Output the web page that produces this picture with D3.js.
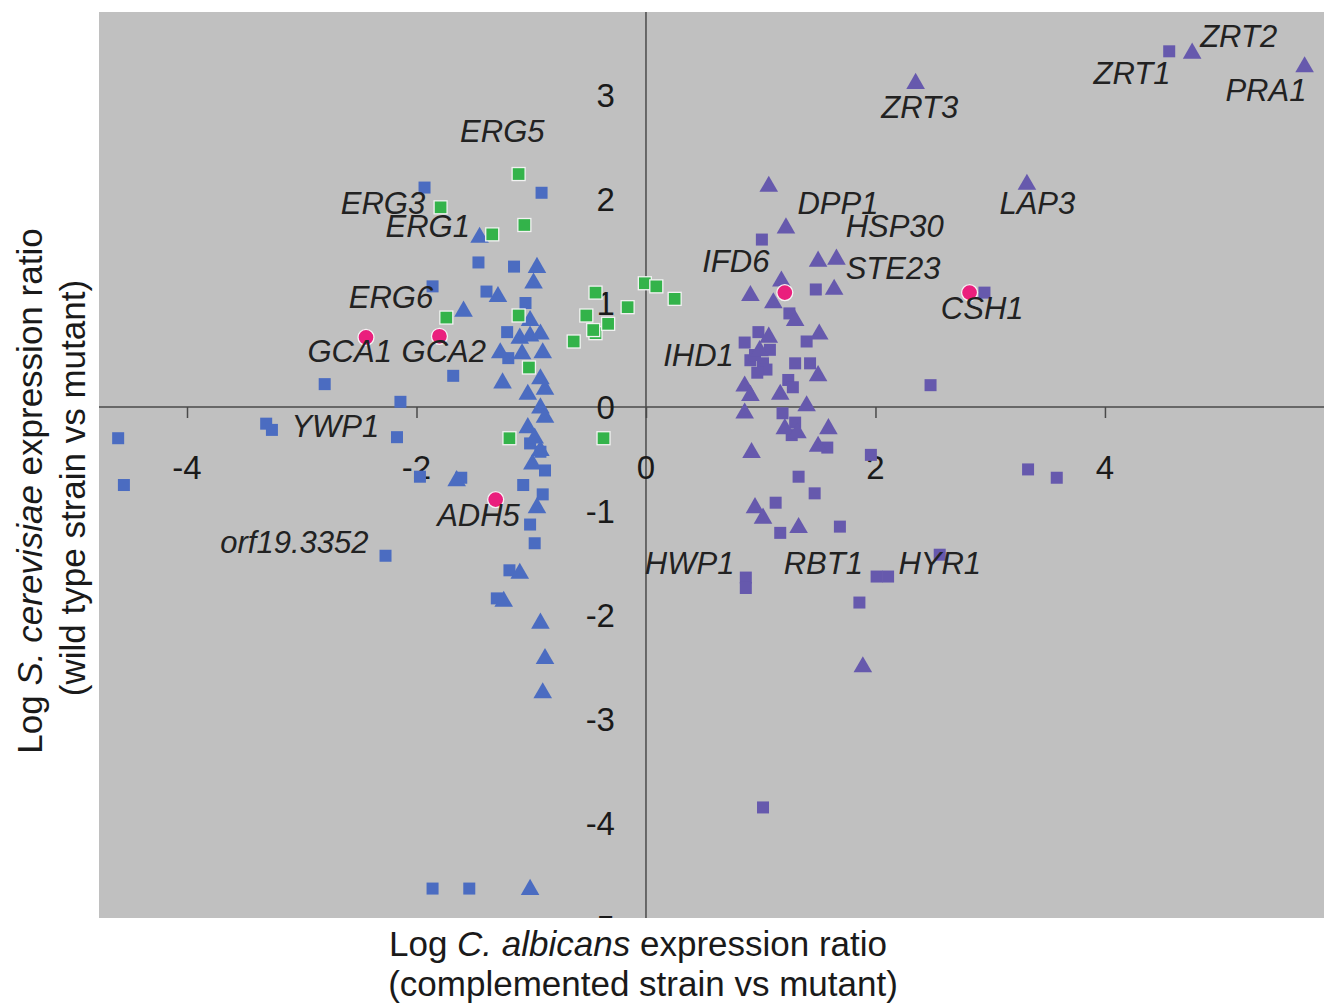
<!DOCTYPE html>
<html><head><meta charset="utf-8">
<script src="https://cdn.jsdelivr.net/npm/d3@7"></script>
<style>
body{margin:0;background:#fff;}
svg{display:block;font-family:"Liberation Sans",Arial,sans-serif;}
</style></head>
<body>
<svg id="chart" width="1324" height="1003"></svg>
<script>
// ---- data (log ratios: x = C. albicans, y = S. cerevisiae) ----
const blueSquares = [
  [-4.60,-0.30],[-4.55,-0.75],[-3.31,-0.16],[-3.26,-0.22],[-2.80,0.22],[-2.27,-1.43],
  [-2.14,0.05],[-2.17,-0.29],[-1.93,2.11],[-1.86,1.16],[-1.97,-0.67],[-1.61,-0.68],
  [-1.68,0.30],[-1.46,1.39],[-1.39,1.11],[-1.15,1.35],[-0.91,2.06],[-1.05,1.00],
  [-1.21,0.72],[-1.20,0.47],[-1.01,-0.35],[-0.92,-0.43],[-1.07,-0.75],[-0.90,-0.84],
  [-1.01,-1.13],[-0.97,-1.31],[-1.19,-1.57],[-1.30,-1.84],[-1.86,-4.63],[-1.54,-4.63],
  [-0.88,-0.61]
];
const blueTriangles = [
  [-1.45,1.64],[-1.59,0.93],[-1.29,1.07],[-0.95,1.35],[-0.98,1.20],[-1.10,0.67],
  [-1.01,0.69],[-0.92,0.71],[-1.27,0.53],[-1.08,0.52],[-0.90,0.53],[-1.25,0.24],
  [-1.03,0.13],[-0.92,0.28],[-0.88,0.18],[-0.92,0.00],[-0.88,-0.09],[-1.03,-0.19],
  [-0.97,-0.29],[-0.92,-0.41],[-0.99,-0.54],[-0.95,-0.96],[-1.10,-1.59],[-1.24,-1.86],
  [-0.92,-2.07],[-0.88,-2.41],[-0.90,-2.74],[-1.01,-4.63],[-1.65,-0.70],[-1.01,0.84]
];
const purpleSquares = [
  [1.01,1.61],[1.48,1.13],[1.25,0.90],[0.98,0.72],[0.86,0.62],[1.40,0.63],[1.30,0.42],
  [1.43,0.42],[0.91,0.45],[1.02,0.42],[1.05,0.36],[0.97,0.33],[1.24,0.26],[1.28,0.19],
  [1.19,-0.06],[1.30,-0.15],[1.27,-0.27],[1.58,-0.39],[1.96,-0.46],[1.33,-0.67],
  [1.47,-0.83],[1.13,-0.92],[1.17,-1.21],[1.69,-1.15],[0.87,-1.64],[0.87,-1.74],
  [2.01,-1.63],[2.11,-1.63],[1.86,-1.88],[2.56,-1.42],[1.02,-3.85],[2.48,0.21],
  [2.95,1.10],[3.33,-0.60],[3.58,-0.68],[4.56,3.42],[1.08,0.55],[0.95,0.50]
];
const purpleTriangles = [
  [1.07,2.13],[1.22,1.73],[1.50,1.41],[1.66,1.43],[1.64,1.14],[1.18,1.22],[0.91,1.08],
  [1.11,1.01],[1.51,0.71],[1.07,0.68],[1.50,0.31],[0.86,0.21],[0.91,0.12],[1.17,0.13],
  [1.40,0.02],[0.86,-0.05],[1.59,-0.20],[1.21,-0.20],[1.32,-0.24],[1.50,-0.37],
  [0.92,-0.43],[0.95,-0.96],[1.02,-1.06],[1.33,-1.15],[1.89,-2.49],[2.35,3.12],
  [3.32,2.15],[4.76,3.41],[5.74,3.28],[1.30,0.84],[0.99,0.55]
];
const greenSquares = [
  [-1.11,2.24],[-1.79,1.92],[-1.34,1.66],[-1.06,1.75],[-1.74,0.86],[-1.11,0.88],
  [-1.02,0.38],[-0.63,0.63],[-0.52,0.88],[-0.44,1.10],[-0.44,0.71],[-0.33,0.80],
  [-0.16,0.96],[-0.01,1.19],[0.09,1.16],[0.25,1.04],[-1.19,-0.30],[-0.37,-0.30],
  [-0.46,0.74]
];
const pinkCircles = [[-2.44,0.67],[-1.80,0.68],[-1.31,-0.89],[1.21,1.10],[2.82,1.10]];

const geneNames = ["ZRT2","ZRT1","PRA1","ZRT3","ERG5","ERG3","ERG1","DPP1","HSP30","LAP3",
  "IFD6","STE23","ERG6","CSH1","GCA1","GCA2","IHD1","YWP1","ADH5","orf19.3352","HWP1","RBT1","HYR1"];
const geneLabelX = [4.83,3.90,5.05,2.05,-1.62,-2.66,-2.27,1.32,1.74,3.08,
  0.49,1.74,-2.59,2.57,-2.95,-2.13,0.15,-3.09,-1.82,-3.71,-0.01,1.20,2.20];
const geneLabelY = [3.46,3.11,2.94,2.78,2.55,1.86,1.63,1.86,1.63,1.86,
  1.30,1.23,0.95,0.85,0.43,0.43,0.39,-0.29,-1.14,-1.40,-1.61,-1.61,-1.61];

const xTicks = [-4,-2,0,2,4];
const yTicks = [3,2,1,0,-1,-2,-3,-4,-5];
const yTickLabels = ["3","2","1","0","-1","-2","-3","-4","-5"];

// ---- layout ----
const svg = d3.select("#chart");
const plot = {left:99, right:1324, top:12, bottom:918};
const x = d3.scaleLinear().domain([-4.767, 5.909]).range([plot.left, plot.right]);
const y = d3.scaleLinear().domain([-4.913, 3.798]).range([plot.bottom, plot.top]);

svg.append("defs").append("clipPath").attr("id","plotclip").append("rect")
  .attr("x",0).attr("y",0).attr("width",1324).attr("height",plot.bottom);

svg.append("rect").attr("x",plot.left).attr("y",plot.top)
  .attr("width",plot.right-plot.left).attr("height",plot.bottom-plot.top)
  .attr("fill","#c0c0c0");

const axisColor = "#4a4a4a";
svg.append("line").attr("x1",plot.left).attr("x2",plot.right)
  .attr("y1",y(0)).attr("y2",y(0)).attr("stroke",axisColor).attr("stroke-width",1.5);
svg.append("line").attr("x1",x(0)).attr("x2",x(0))
  .attr("y1",plot.top).attr("y2",plot.bottom).attr("stroke",axisColor).attr("stroke-width",1.5);

const xAxis = d3.axisBottom(x).tickValues(xTicks).tickSize(11).tickFormat("");
const gx = svg.append("g").attr("transform",`translate(0,${y(0)})`).call(xAxis);
gx.select(".domain").remove();
gx.selectAll(".tick line").attr("stroke",axisColor).attr("stroke-width",1.5);

const yAxis = d3.axisLeft(y).tickValues(yTicks).tickSize(12).tickFormat("");
const gy = svg.append("g").attr("transform",`translate(${x(0)},0)`).attr("clip-path","url(#plotclip)").call(yAxis);
gy.select(".domain").remove();
gy.selectAll(".tick line").attr("stroke",axisColor).attr("stroke-width",1.5);

svg.append("g").selectAll("text").data(xTicks).join("text")
  .attr("x",d=>x(d)).attr("y",y(0)+72).attr("text-anchor","middle")
  .attr("font-size",33).attr("fill","#1a1a1a").text(d=>d);
// y tick labels, clipped at the plot bottom (the "-5" is only partly visible)
svg.append("g").attr("clip-path","url(#plotclip)").selectAll("text")
  .data(yTicks).join("text")
  .attr("x",x(0)-31).attr("y",d=>y(d)).attr("dy","0.36em").attr("text-anchor","end")
  .attr("font-size",33).attr("fill","#1a1a1a").text((d,i)=>yTickLabels[i]);

// ---- markers ----
const blue = "#4b6cc1", purple = "#6659ad", green = "#33b34a", pink = "#ea1f7d";
function squares(data, color, size, stroke){
  svg.append("g").selectAll("rect").data(data).join("rect")
    .attr("x",d=>x(d[0])-size/2).attr("y",d=>y(d[1])-size/2)
    .attr("width",size).attr("height",size).attr("fill",color)
    .attr("stroke",stroke||"none").attr("stroke-width",stroke?1.3:0);
}
function triangles(data, color){
  const tri = d3.symbol().type(d3.symbolTriangle).size(150);
  svg.append("g").selectAll("path").data(data).join("path")
    .attr("d",tri).attr("transform",d=>`translate(${x(d[0])},${y(d[1])+1})`)
    .attr("fill",color);
}
squares(blueSquares, blue, 12);
triangles(blueTriangles, blue);
squares(purpleSquares, purple, 12);
triangles(purpleTriangles, purple);
squares(greenSquares, green, 13, "#f2f2f2");
svg.append("g").selectAll("circle").data(pinkCircles).join("circle")
  .attr("cx",d=>x(d[0])).attr("cy",d=>y(d[1])).attr("r",8)
  .attr("fill",pink).attr("stroke","#f4f4f4").attr("stroke-width",1.3);

svg.append("g").selectAll("text").data(geneNames).join("text")
  .attr("x",(d,i)=>x(geneLabelX[i])).attr("y",(d,i)=>y(geneLabelY[i]))
  .attr("font-size",31).attr("font-style","italic").attr("fill","#222").text(d=>d);

// axis titles
const xt = svg.append("text").attr("x",638).attr("y",956).attr("text-anchor","middle")
  .attr("font-size",35).attr("fill","#1a1a1a");
xt.append("tspan").text("Log ");
xt.append("tspan").attr("font-style","italic").text("C. albicans");
xt.append("tspan").text(" expression ratio");
svg.append("text").attr("x",643).attr("y",996).attr("text-anchor","middle")
  .attr("font-size",35).attr("fill","#1a1a1a").text("(complemented strain vs mutant)");

const yt = svg.append("text").attr("transform","translate(42,491) rotate(-90)")
  .attr("text-anchor","middle").attr("font-size",35).attr("fill","#1a1a1a");
yt.append("tspan").text("Log ");
yt.append("tspan").attr("font-style","italic").text("S. cerevisiae");
yt.append("tspan").text(" expression ratio");
svg.append("text").attr("transform","translate(85,488) rotate(-90)")
  .attr("text-anchor","middle").attr("font-size",35).attr("fill","#1a1a1a")
  .text("(wild type strain vs mutant)");
</script>
</body></html>
